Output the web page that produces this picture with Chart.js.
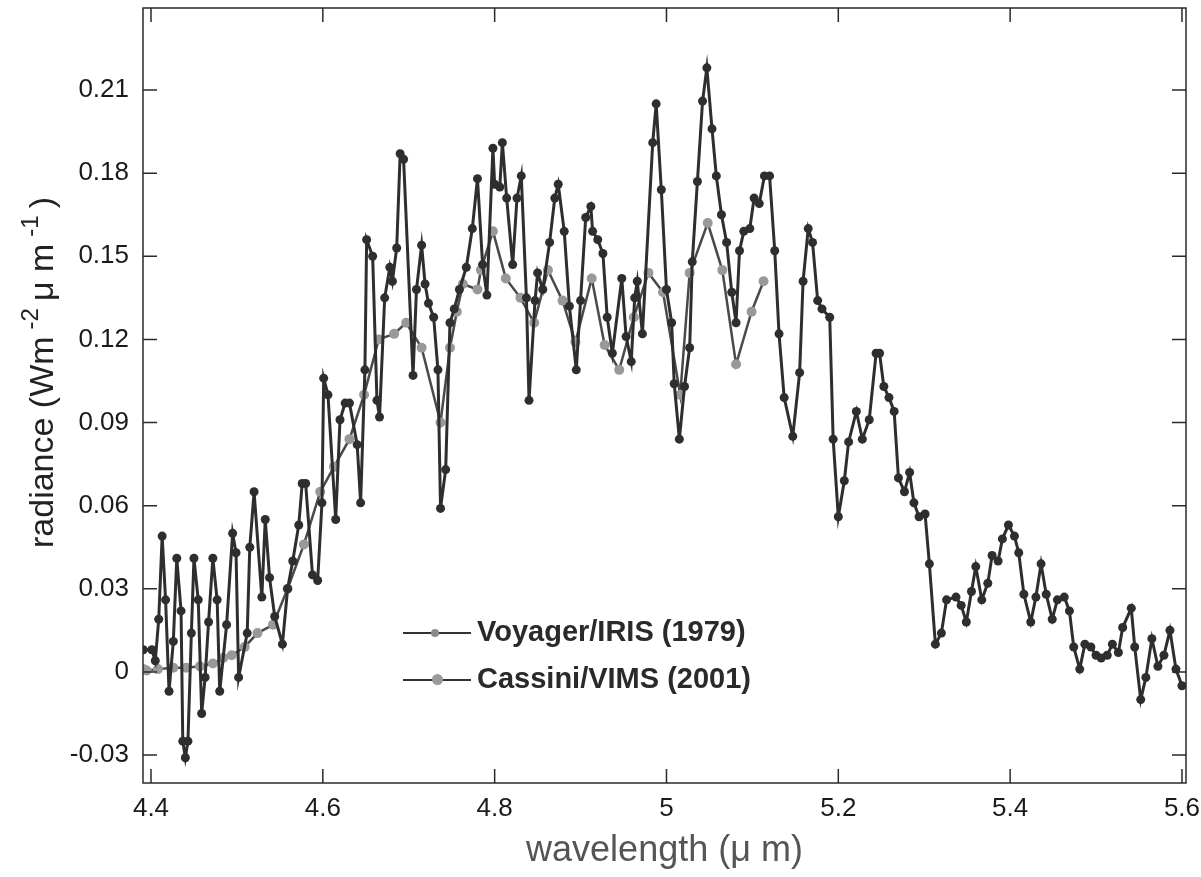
<!DOCTYPE html>
<html>
<head>
<meta charset="utf-8">
<script src="https://cdn.jsdelivr.net/npm/chart.js@4.4.1/dist/chart.umd.min.js"></script>
<style>
  body { margin: 0; background: #fff; }
  .wrap { position: relative; width: 1201px; height: 877px; }
  .legend { position: absolute; left: 400px; top: 611px; font-family: "Liberation Sans", Arial, sans-serif; font-weight: bold; font-size: 29px; color: #2a2a2a; }
  .legend .row { position: relative; height: 47px; }
  .legend .line { position: absolute; left: 3px; top: 21px; width: 68px; border-top: 2px solid #333; }
  .legend .mark { position: absolute; top: 16px; width: 11px; height: 11px; border-radius: 50%; }
  .legend .txt { position: absolute; left: 77px; top: 4px; white-space: nowrap; }
</style>
</head>
<body>
<div class="wrap">
  <canvas id="spectrumChart" width="1201" height="877"></canvas>
  <div class="legend">
    <div class="row"><span class="line"></span><span class="mark" style="left:31px;background:#8a8a8a;width:8px;height:8px;top:18px;"></span><span class="txt">Voyager/IRIS (1979)</span></div>
    <div class="row"><span class="line"></span><span class="mark" style="left:32px;background:#9a9a9a;"></span><span class="txt">Cassini/VIMS (2001)</span></div>
  </div>
</div>
<script>
// Voyager/IRIS (1979) spectrum, wavelength in micron
const voyagerX = [4.391, 4.401, 4.405, 4.409, 4.413, 4.417, 4.421, 4.426, 4.430, 4.435, 4.437, 4.440, 4.443, 4.447, 4.450, 4.455, 4.459, 4.463, 4.467, 4.472,
  4.477, 4.480, 4.488, 4.495, 4.499, 4.502, 4.512, 4.515, 4.520, 4.529, 4.533, 4.538, 4.544, 4.553, 4.559, 4.565, 4.572, 4.576, 4.580, 4.588,
  4.594, 4.599, 4.601, 4.606, 4.615, 4.620, 4.626, 4.631, 4.640, 4.644, 4.649, 4.651, 4.658, 4.663, 4.666, 4.672, 4.678, 4.681, 4.686, 4.690,
  4.694, 4.705, 4.709, 4.715, 4.719, 4.723, 4.729, 4.734, 4.737, 4.743, 4.748, 4.753, 4.759, 4.767, 4.774, 4.780, 4.786, 4.791, 4.798, 4.800,
  4.806, 4.809, 4.814, 4.821, 4.826, 4.831, 4.837, 4.840, 4.847, 4.850, 4.856, 4.864, 4.870, 4.874, 4.881, 4.887, 4.895, 4.900, 4.906, 4.912,
  4.914, 4.920, 4.926, 4.931, 4.937, 4.948, 4.953, 4.959, 4.963, 4.966, 4.972, 4.984, 4.988, 4.994, 5.000, 5.006, 5.009, 5.015, 5.021, 5.027,
  5.030, 5.036, 5.042, 5.047, 5.053, 5.058, 5.064, 5.070, 5.076, 5.081, 5.085, 5.090, 5.097, 5.102, 5.108, 5.114, 5.120, 5.126, 5.131, 5.137,
  5.147, 5.155, 5.159, 5.165, 5.170, 5.176, 5.181, 5.190, 5.194, 5.200, 5.207, 5.212, 5.221, 5.228, 5.236, 5.244, 5.248, 5.253, 5.259, 5.265,
  5.270, 5.277, 5.283, 5.288, 5.294, 5.301, 5.306, 5.313, 5.320, 5.326, 5.337, 5.343, 5.349, 5.355, 5.360, 5.367, 5.374, 5.379, 5.386, 5.391,
  5.398, 5.405, 5.410, 5.416, 5.424, 5.430, 5.436, 5.442, 5.449, 5.455, 5.463, 5.469, 5.474, 5.481, 5.487, 5.494, 5.500, 5.506, 5.513, 5.519,
  5.526, 5.531, 5.541, 5.545, 5.552, 5.558, 5.565, 5.572, 5.579, 5.586, 5.593, 5.600];
const voyagerY = [0.008, 0.008, 0.004, 0.019, 0.049, 0.026, -0.007, 0.011, 0.041, 0.022, -0.025, -0.031, -0.025, 0.014, 0.041, 0.026, -0.015, -0.002, 0.018, 0.041,
  0.026, -0.007, 0.017, 0.050, 0.043, -0.002, 0.014, 0.045, 0.065, 0.027, 0.055, 0.034, 0.020, 0.010, 0.030, 0.040, 0.053, 0.068, 0.068, 0.035,
  0.033, 0.061, 0.106, 0.100, 0.055, 0.091, 0.097, 0.097, 0.082, 0.061, 0.109, 0.156, 0.150, 0.098, 0.092, 0.135, 0.146, 0.141, 0.153, 0.187,
  0.185, 0.107, 0.138, 0.154, 0.140, 0.133, 0.128, 0.109, 0.059, 0.073, 0.126, 0.131, 0.138, 0.146, 0.160, 0.178, 0.147, 0.136, 0.189, 0.176,
  0.175, 0.191, 0.171, 0.147, 0.171, 0.179, 0.135, 0.098, 0.134, 0.144, 0.138, 0.155, 0.171, 0.176, 0.159, 0.132, 0.109, 0.134, 0.164, 0.168,
  0.159, 0.156, 0.151, 0.128, 0.115, 0.142, 0.121, 0.112, 0.135, 0.141, 0.122, 0.191, 0.205, 0.174, 0.138, 0.126, 0.104, 0.084, 0.103, 0.117,
  0.148, 0.177, 0.206, 0.218, 0.196, 0.179, 0.165, 0.155, 0.137, 0.126, 0.152, 0.159, 0.160, 0.171, 0.169, 0.179, 0.179, 0.152, 0.122, 0.099,
  0.085, 0.108, 0.141, 0.160, 0.155, 0.134, 0.131, 0.128, 0.084, 0.056, 0.069, 0.083, 0.094, 0.084, 0.091, 0.115, 0.115, 0.103, 0.099, 0.094,
  0.070, 0.065, 0.072, 0.061, 0.056, 0.057, 0.039, 0.010, 0.014, 0.026, 0.027, 0.024, 0.018, 0.029, 0.038, 0.026, 0.032, 0.042, 0.040, 0.048,
  0.053, 0.049, 0.043, 0.028, 0.018, 0.027, 0.039, 0.028, 0.019, 0.026, 0.027, 0.022, 0.009, 0.001, 0.010, 0.009, 0.006, 0.005, 0.006, 0.010,
  0.007, 0.016, 0.023, 0.009, -0.010, -0.002, 0.012, 0.002, 0.006, 0.015, 0.001, -0.005];

// Cassini/VIMS (2001) spectrum
const cassiniX = [4.391, 4.395, 4.408, 4.426, 4.441, 4.457, 4.472, 4.484, 4.494, 4.509, 4.524, 4.542, 4.559, 4.578, 4.597, 4.613, 4.631, 4.648, 4.665, 4.683,
  4.697, 4.715, 4.737, 4.748, 4.756, 4.763, 4.780, 4.784, 4.798, 4.813, 4.830, 4.846, 4.862, 4.879, 4.894, 4.913, 4.928, 4.945, 4.962, 4.979,
  4.996, 5.016, 5.027, 5.048, 5.065, 5.081, 5.099, 5.113];
const cassiniY = [0.001, 0.0005, 0.001, 0.0015, 0.0015, 0.002, 0.003, 0.005, 0.006, 0.009, 0.014, 0.017, 0.030, 0.046, 0.065, 0.074, 0.084, 0.100, 0.120, 0.122,
  0.126, 0.117, 0.090, 0.117, 0.130, 0.140, 0.138, 0.145, 0.159, 0.142, 0.135, 0.126, 0.145, 0.134, 0.119, 0.142, 0.118, 0.109, 0.128, 0.144,
  0.137, 0.100, 0.144, 0.162, 0.145, 0.111, 0.130, 0.141];

// axis ranges and tick steps
const xRange = [4.3907, 5.6047];
const yRange = [-0.0401, 0.2396];
const xStep = 0.2;
const yStep = 0.03;

// y title pieces: [text, superscript?]
const yTitleParts = [['radiance (Wm', false], ['-2', true], ['\u03bc m', false], ['-1', true], [')', false]];

const toPoints = (xs, ys) => xs.map((x, i) => ({ x: x, y: ys[i] }));
const fontFamily = '"Liberation Sans", Arial, Helvetica, sans-serif';

// box frame with inward ticks on all four sides
const frameTicks = {
    id: 'frameTicks',
    afterDraw(chart) {
        const { ctx, chartArea: { left, right, top, bottom }, scales: { x, y } } = chart;
        const len = 14;
        ctx.save();
        ctx.strokeStyle = '#2a2a2a';
        ctx.lineWidth = 1.5;
        ctx.strokeRect(left, top, right - left, bottom - top);
        ctx.beginPath();
        x.ticks.forEach(t => {
            const px = x.getPixelForValue(t.value);
            ctx.moveTo(px, bottom); ctx.lineTo(px, bottom - len);
            ctx.moveTo(px, top); ctx.lineTo(px, top + len);
        });
        y.ticks.forEach(t => {
            const py = y.getPixelForValue(t.value);
            ctx.moveTo(left, py); ctx.lineTo(left + len, py);
            ctx.moveTo(right, py); ctx.lineTo(right - len, py);
        });
        ctx.stroke();
        ctx.restore();
    }
};

// rotated y title with raised exponents
const yTitle = {
    id: 'yTitle',
    afterDraw(chart) {
        const ctx = chart.ctx;
        ctx.save();
        ctx.translate(53, 548);
        ctx.rotate(-Math.PI / 2);
        ctx.fillStyle = '#222';
        ctx.textBaseline = 'alphabetic';
        let pos = 0;
        yTitleParts.forEach(([txt, sup], i) => {
            ctx.font = (sup ? 24 : 34) + 'px ' + fontFamily;
            if (i > 0) pos += 7;
            ctx.fillText(txt, pos, sup ? -15 : 0);
            pos += ctx.measureText(txt).width;
        });
        ctx.restore();
    }
};

// drop the automatic edge padding so the plot box lands where it should
const noEdgePad = scale => {
    scale.paddingTop = 0; scale.paddingBottom = 0;
    scale.paddingLeft = 0; scale.paddingRight = 0;
};

const ctxSpectrum = document.getElementById('spectrumChart').getContext('2d');
const spectrumChart = new Chart(ctxSpectrum, {
    type: 'scatter',
    data: {
        datasets: [{
            label: 'Voyager/IRIS (1979)',
            data: toPoints(voyagerX, voyagerY),
            showLine: true,
            borderColor: '#2e2e2e',
            borderWidth: 3,
            backgroundColor: '#2e2e2e',
            pointBorderColor: '#2e2e2e',
            pointRadius: 4.5,
            pointBorderWidth: 0,
            order: 1
        }, {
            label: 'Cassini/VIMS (2001)',
            data: toPoints(cassiniX, cassiniY),
            showLine: true,
            borderColor: '#4a4a4a',
            borderWidth: 2.5,
            backgroundColor: '#999',
            pointBorderColor: '#999',
            pointRadius: 5,
            pointBorderWidth: 0,
            order: 2
        }]
    },
    options: {
        responsive: false,
        animation: false,
        layout: { padding: { top: 8, right: 15, left: 0, bottom: 0 } },
        scales: {
            x: {
                type: 'linear',
                min: xRange[0],
                max: xRange[1],
                grid: { display: false, drawTicks: false },
                border: { display: false },
                ticks: {
                    stepSize: xStep,
                    includeBounds: false,
                    padding: 10,
                    color: '#1a1a1a',
                    font: { family: fontFamily, size: 26 },
                    maxRotation: 0,
                    callback: v => String(Number(v.toFixed(1)))
                },
                title: {
                    display: true,
                    text: 'wavelength (\u03bc m)',
                    color: '#555',
                    font: { family: fontFamily, size: 36 },
                    padding: { top: 0, bottom: 4 }
                },
                afterFit: scale => { scale.height = 94; noEdgePad(scale); }
            },
            y: {
                min: yRange[0],
                max: yRange[1],
                grid: { display: false, drawTicks: false },
                border: { display: false },
                ticks: {
                    stepSize: yStep,
                    includeBounds: false,
                    padding: 14,
                    color: '#1a1a1a',
                    font: { family: fontFamily, size: 26 },
                    callback: v => String(Number(v.toFixed(2)))
                },
                title: { display: false },
                afterFit: scale => { scale.width = 143; noEdgePad(scale); }
            }
        },
        plugins: {
            legend: { display: false },
            tooltip: { enabled: false }
        }
    },
    plugins: [frameTicks, yTitle]
});
</script>
</body>
</html>
